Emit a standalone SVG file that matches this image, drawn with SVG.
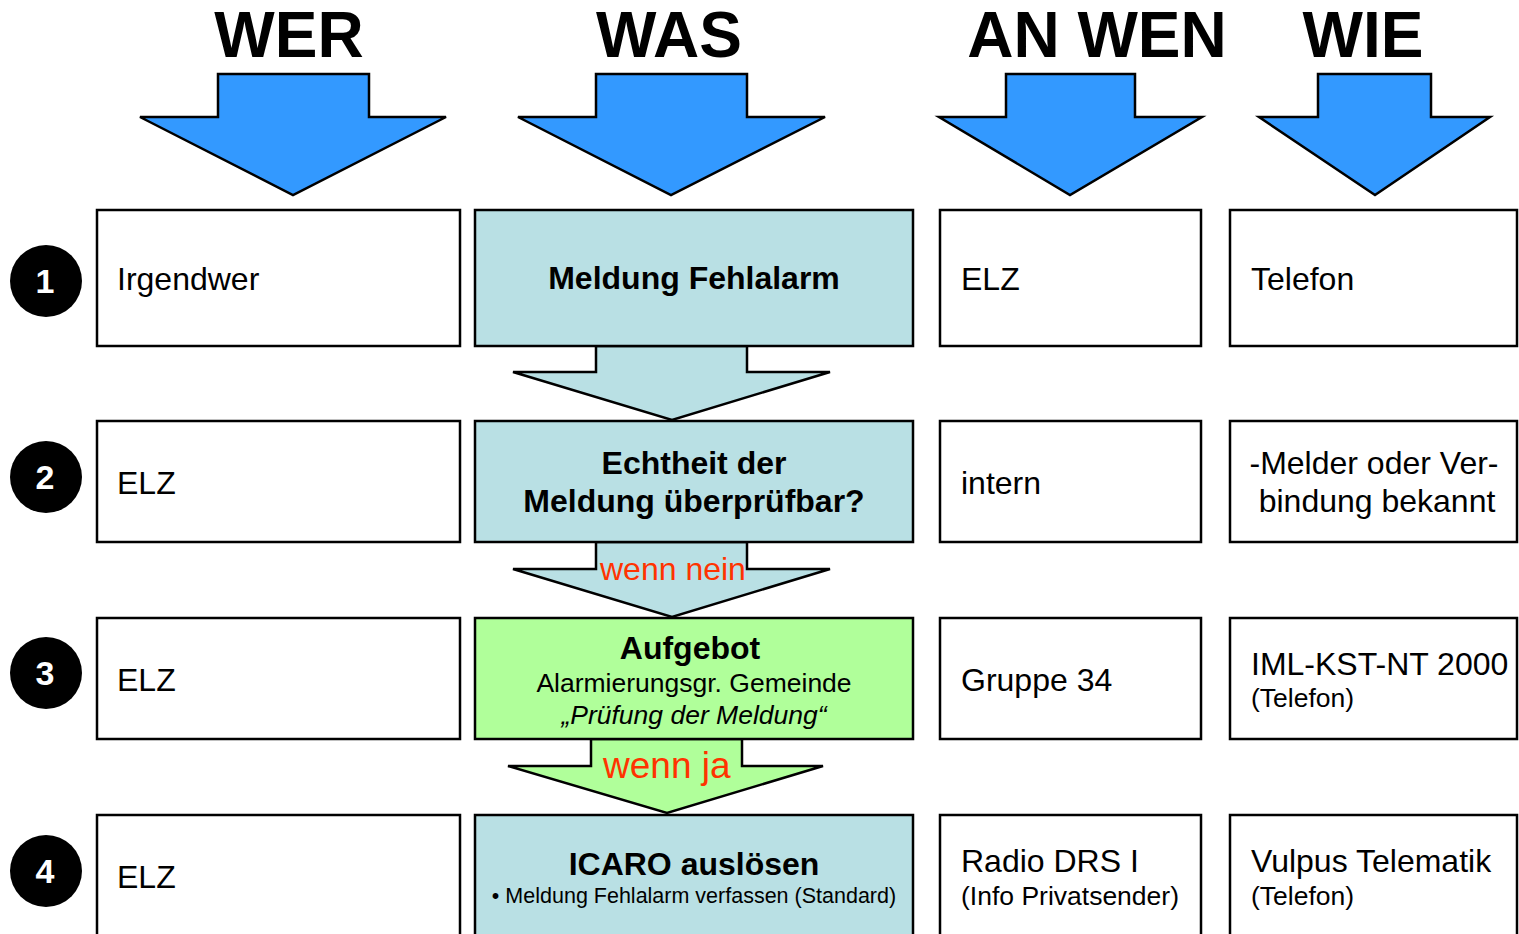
<svg xmlns="http://www.w3.org/2000/svg" width="1519" height="934" viewBox="0 0 1519 934">
<style>
text{font-family:"Liberation Sans",Arial,sans-serif;fill:#000}
.h{font-size:64px;font-weight:bold;text-anchor:middle}
.big{fill:#3399FF;stroke:#000;stroke-width:2.5}
.box{fill:#fff;stroke:#000;stroke-width:2.5}
.blue{fill:#B9E0E4;stroke:#000;stroke-width:2.5}
.green{fill:#B0FF9A;stroke:#000;stroke-width:2.5}
.t{font-size:32px}
.s{font-size:26.5px}
.b{font-weight:bold}
.m{text-anchor:middle}
.num{fill:#fff;font-size:34px;font-weight:bold;text-anchor:middle}
.red{fill:#FF3300}
</style>
<g id="headers">
<text class="h" x="289" y="57">WER</text>
<text class="h" x="669" y="57">WAS</text>
<text class="h" x="1097" y="57">AN WEN</text>
<text class="h" x="1363" y="57">WIE</text>
<polygon class="big" points="218,74 369,74 369,117 446,117 293,195 140,117 218,117"/>
<polygon class="big" points="596,74 747,74 747,117 825,117 671,195 518,117 596,117"/>
<polygon class="big" points="1006,74 1135,74 1135,117 1202,117 1070,195 939,117 1006,117"/>
<polygon class="big" points="1318,74 1431,74 1431,117 1490,117 1375,195 1259,117 1318,117"/>
</g>
<g id="connectors">
<polygon class="blue" points="596,346 747,346 747,372 830,372 672,420 513,372 596,372"/>
<polygon class="blue" points="596,542 747,542 747,569 830,569 672,617 513,569 596,569"/>
<polygon class="green" points="591,739 742,739 742,766 823,766 667,813 508,766 591,766"/>
<text class="t red" x="600" y="580">wenn nein</text>
<text class="red" x="603" y="778" style="font-size:37px">wenn ja</text>
</g>
<g id="step1">
<circle cx="46" cy="281" r="36" fill="#000"/><text class="num" x="45" y="293">1</text>
</g>
<g id="step2">
<circle cx="46" cy="477" r="36" fill="#000"/><text class="num" x="45" y="489">2</text>
</g>
<g id="step3">
<circle cx="46" cy="673" r="36" fill="#000"/><text class="num" x="45" y="685">3</text>
</g>
<g id="step4">
<circle cx="46" cy="871" r="36" fill="#000"/><text class="num" x="45" y="883">4</text>
</g>
<g id="r1c1"><rect class="box" x="97" y="210" width="363" height="136"/><text class="t" x="117" y="290">Irgendwer</text></g>
<g id="r1c2"><rect class="blue" x="475" y="210" width="438" height="136"/><text class="t b m" x="694" y="289">Meldung Fehlalarm</text></g>
<g id="r1c3"><rect class="box" x="940" y="210" width="261" height="136"/><text class="t" x="961" y="290">ELZ</text></g>
<g id="r1c4"><rect class="box" x="1230" y="210" width="287" height="136"/><text class="t" x="1251" y="290">Telefon</text></g>
<g id="r2c1"><rect class="box" x="97" y="421" width="363" height="121"/><text class="t" x="117" y="494">ELZ</text></g>
<g id="r2c2"><rect class="blue" x="475" y="421" width="438" height="121"/><text class="t b m" x="694" y="474">Echtheit der</text><text class="t b m" x="694" y="512">Meldung überprüfbar?</text></g>
<g id="r2c3"><rect class="box" x="940" y="421" width="261" height="121"/><text class="t" x="961" y="494">intern</text></g>
<g id="r2c4"><rect class="box" x="1230" y="421" width="287" height="121"/><text class="t m" x="1374" y="474">-Melder oder Ver-</text><text class="t m" x="1377" y="512">bindung bekannt</text></g>
<g id="r3c1"><rect class="box" x="97" y="618" width="363" height="121"/><text class="t" x="117" y="691">ELZ</text></g>
<g id="r3c2"><rect class="green" x="475" y="618" width="438" height="121"/><text class="t b m" x="690" y="659">Aufgebot</text><text class="s m" x="694" y="692">Alarmierungsgr. Gemeinde</text><text class="s m" x="694" y="724" font-style="italic">„Prüfung der Meldung“</text></g>
<g id="r3c3"><rect class="box" x="940" y="618" width="261" height="121"/><text class="t" x="961" y="691">Gruppe 34</text></g>
<g id="r3c4"><rect class="box" x="1230" y="618" width="287" height="121"/><text class="t" x="1251" y="675">IML-KST-NT 2000</text><text class="s" x="1251" y="707">(Telefon)</text></g>
<g id="r4c1"><rect class="box" x="97" y="815" width="363" height="130"/><text class="t" x="117" y="888">ELZ</text></g>
<g id="r4c2"><rect class="blue" x="475" y="815" width="438" height="130"/><text class="b m" x="694" y="875" style="font-size:32px">ICARO auslösen</text><text class="m" x="694" y="903" style="font-size:21.5px">• Meldung Fehlalarm verfassen (Standard)</text></g>
<g id="r4c3"><rect class="box" x="940" y="815" width="261" height="130"/><text class="t" x="961" y="872">Radio DRS I</text><text class="s" x="961" y="905">(Info Privatsender)</text></g>
<g id="r4c4"><rect class="box" x="1230" y="815" width="287" height="130"/><text class="t" x="1251" y="872">Vulpus Telematik</text><text class="s" x="1251" y="905">(Telefon)</text></g>
</svg>
